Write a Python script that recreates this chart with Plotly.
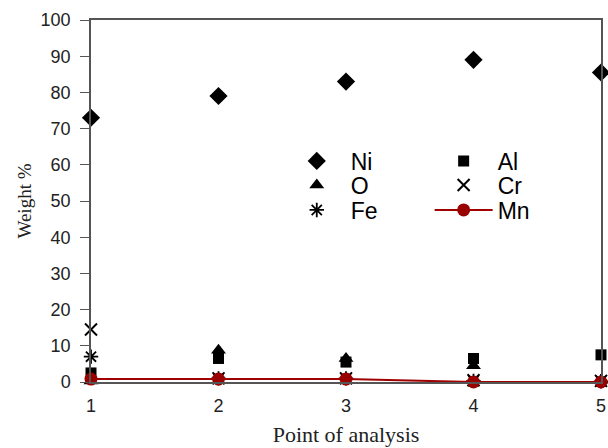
import plotly.graph_objects as go

points = [1, 2, 3, 4, 5]
ni = [73, 79, 83, 89, 85.5]
al = [2.5, 6.5, 5.5, 6.5, 7.5]
o = [0.3, 8.8, 6.5, 4.5, 0.5]
cr = [14.5, 1.0, 1.0, 0.5, 0.3]
fe = [7.0, 1.0, 1.0, 0.3, 0.2]
mn = [0.8, 0.8, 0.8, 0.0, 0.0]

fig = go.Figure()
fig.add_trace(go.Scatter(x=points, y=ni, name="Ni", mode="markers", legend="legend",
                         marker=dict(symbol="diamond", size=14, color="black"), cliponaxis=False))
fig.add_trace(go.Scatter(x=points, y=al, name="Al", mode="markers", legend="legend4",
                         marker=dict(symbol="square", size=11, color="black"), cliponaxis=False))
fig.add_trace(go.Scatter(x=points, y=o, name="O", mode="markers", legend="legend2",
                         marker=dict(symbol="triangle-up", size=13, color="black"), cliponaxis=False))
fig.add_trace(go.Scatter(x=points, y=cr, name="Cr", mode="markers", legend="legend5",
                         marker=dict(symbol="x-thin-open", size=12, color="black",
                                     line=dict(width=2, color="black")), cliponaxis=False))
fig.add_trace(go.Scatter(x=points, y=fe, name="Fe", mode="markers", legend="legend3",
                         marker=dict(symbol="asterisk-open", size=12, color="black",
                                     line=dict(width=1.8, color="black")), cliponaxis=False))
fig.add_trace(go.Scatter(x=points, y=mn, name="Mn", mode="lines+markers", legend="legend6",
                         line=dict(color="#a00000", width=2),
                         marker=dict(symbol="circle", size=13, color="#990000"), cliponaxis=False))
for tr in fig.data:
    tr.showlegend = True

legfont = dict(family="Liberation Sans, Arial, sans-serif", size=23, color="black")
rows = [0.6105, 0.5442, 0.4751]
def leg(x, y):
    return dict(x=x, y=y, xanchor="left", yanchor="middle", font=legfont,
                bgcolor="rgba(0,0,0,0)", itemwidth=58)

fig.update_layout(
    width=608, height=448,
    showlegend=True,
    margin=dict(l=91, r=2, t=20, b=66),
    paper_bgcolor="white", plot_bgcolor="white",
    legend=leg(0.376, rows[0]), legend2=leg(0.376, rows[1]), legend3=leg(0.376, rows[2]),
    legend4=leg(0.664, rows[0]), legend5=leg(0.664, rows[1]), legend6=leg(0.664, rows[2]),
    xaxis=dict(range=[1, 5], tickvals=points, ticks="", showgrid=False, zeroline=False,
               showline=True, mirror=True, linecolor="#555", linewidth=1.5,
               tickfont=dict(family="Liberation Sans, Arial, sans-serif", size=18, color="#222"),
               ticklabelstandoff=7, ticklabeloverflow="allow",
               title=dict(text="Point of analysis", standoff=11,
                          font=dict(family="Liberation Serif, Times New Roman, serif", size=22, color="#222"))),
    yaxis=dict(range=[0, 100], dtick=10, ticks="outside", ticklen=9, tickcolor="#555",
               showgrid=False, zeroline=False,
               showline=True, mirror=True, linecolor="#555", linewidth=1.5,
               tickfont=dict(family="Liberation Sans, Arial, sans-serif", size=18, color="#222"),
               ticklabelstandoff=6,
               title=dict(text="Weight %", standoff=4,
                          font=dict(family="Liberation Serif, Times New Roman, serif", size=19, color="#222"))),
)

fig.write_html("out.html")
